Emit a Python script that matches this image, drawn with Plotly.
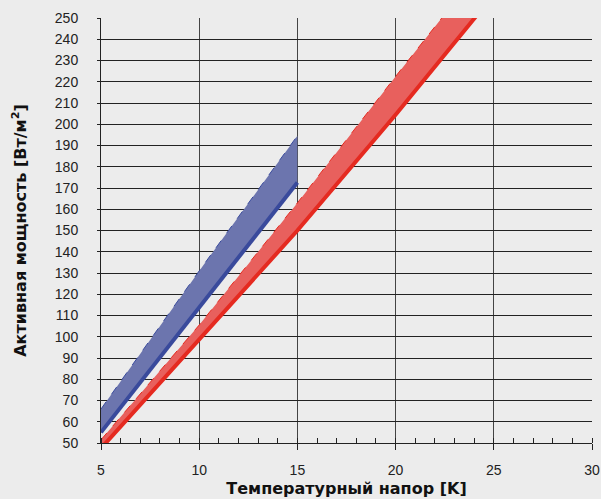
import plotly.graph_objects as go

# Data
blue_x = [5, 10, 15]
blue_low = [55, 113.5, 172.6]
blue_high = [66, 131, 194.6]

red_x = [5, 10, 15, 20, 25]
red_low = [47.5, 99, 150, 204.5, 261]
red_high = [51.5, 105.5, 163, 222.5, 281]

x_ticks = [5, 10, 15, 20, 25, 30]
y_ticks = list(range(50, 251, 10))

BG = "#ececec"
BLUE_FILL = "#6c75ae"
BLUE_LINE = "#394a9c"
RED_FILL = "#e8605d"
RED_LINE = "#e52a20"

fig = go.Figure()

# Blue band
fig.add_trace(go.Scatter(x=blue_x, y=blue_low, mode="lines",
                         line=dict(color=BLUE_FILL, width=0), showlegend=False, hoverinfo="skip"))
fig.add_trace(go.Scatter(x=blue_x, y=blue_high, mode="lines", fill="tonexty",
                         fillcolor=BLUE_FILL,
                         line=dict(color=BLUE_LINE, width=1, dash="dash"), showlegend=False))
fig.add_trace(go.Scatter(x=blue_x, y=blue_low, mode="lines",
                         line=dict(color=BLUE_LINE, width=4), showlegend=False))

# Red band
fig.add_trace(go.Scatter(x=red_x, y=red_low, mode="lines",
                         line=dict(color=RED_FILL, width=0), showlegend=False, hoverinfo="skip"))
fig.add_trace(go.Scatter(x=red_x, y=red_high, mode="lines", fill="tonexty",
                         fillcolor=RED_FILL,
                         line=dict(color=RED_LINE, width=1, dash="dash"), showlegend=False))
fig.add_trace(go.Scatter(x=red_x, y=red_low, mode="lines",
                         line=dict(color=RED_LINE, width=4), showlegend=False))

tick_font = "Liberation Sans, Arial, sans-serif"
title_font = "DejaVu Sans, sans-serif"

fig.update_layout(
    width=601, height=499,
    margin=dict(l=101, r=9, t=18, b=56),
    paper_bgcolor=BG, plot_bgcolor=BG,
    font=dict(family=tick_font, size=14, color="#222"),
    xaxis=dict(
        range=[5, 30], tickvals=x_ticks, ticktext=[str(v) for v in x_ticks],
        automargin=False,
        showgrid=True, gridcolor="#444", gridwidth=1,
        showline=True, linecolor="#222", linewidth=1,
        ticks="outside", ticklen=6, tickcolor="#222",
        minor=dict(dtick=1, ticks="inside", ticklen=5, tickcolor="#222", showgrid=False),
        zeroline=False, ticklabelstandoff=8,
        title=dict(text="<b>Температурный напор [K]</b>",
                   font=dict(family=title_font, size=16, color="#111"), standoff=6),
    ),
    yaxis=dict(
        range=[50, 250], tickvals=y_ticks, ticktext=[str(v) for v in y_ticks],
        automargin=False,
        showgrid=True, gridcolor="#222", gridwidth=1,
        showline=True, linecolor="#222", linewidth=1,
        ticks="outside", ticklen=3, tickcolor="#222",
        zeroline=False, ticklabelstandoff=16,
        title=dict(text="<b>Активная мощность [Вт/м<sup>2</sup>]</b>",
                   font=dict(family=title_font, size=16, color="#111"), standoff=24),
    ),
)

fig.write_html("out.html")
